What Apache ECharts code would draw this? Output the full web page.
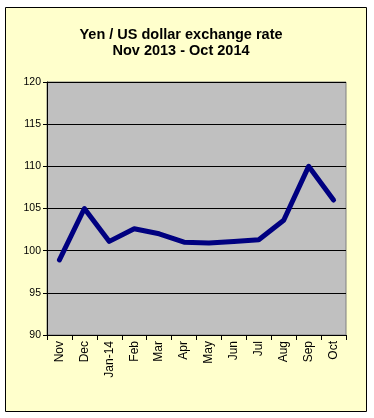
<!DOCTYPE html>
<html><head><meta charset="utf-8">
<script src="https://cdn.jsdelivr.net/npm/echarts@6/dist/echarts.min.js"></script>
<style>html,body{margin:0;padding:0;background:#fff}#c{width:374px;height:418px}</style>
</head><body><div id="c"></div>
<script>
const categories = ['Nov','Dec','Jan-14','Feb','Mar','Apr','May','Jun','Jul','Aug','Sep','Oct'];
const rates = [98.9, 105.0, 101.1, 102.6, 102.0, 101.0, 100.9, 101.1, 101.3, 103.6, 110.0, 106.0];
const yTicks = [90, 95, 100, 105, 110, 115, 120];
const titleText = 'Yen / US dollar exchange rate\nNov 2013 - Oct 2014';

const chart = echarts.init(document.getElementById('c'), null, {renderer:'canvas'});
chart.setOption({
  animation:false,
  backgroundColor:'#ffffff',
  graphic:[{type:'rect', z:-10, shape:{x:5.5,y:7.5,width:361,height:404},
    style:{fill:'#FFFFCC', stroke:'#000', lineWidth:1}}],
  title:{text:titleText, left:176, top:22, textAlign:'center',
    textStyle:{fontFamily:'Liberation Sans, Arial', fontSize:14.5, fontWeight:'bold', color:'#000', lineHeight:16}},
  grid:{left:47, top:82, width:299, height:253, show:true, backgroundColor:'#C0C0C0', borderColor:'#808080', borderWidth:1},
  xAxis:{type:'category', data:categories, boundaryGap:true,
    axisLine:{lineStyle:{color:'#000'}},
    axisTick:{show:true, length:5, inside:false, lineStyle:{color:'#000'}},
    axisLabel:{rotate:90, color:'#000', fontFamily:'Liberation Sans, Arial', fontSize:12, margin:6}},
  yAxis:{type:'value', min:yTicks[0], max:yTicks[yTicks.length-1], interval:5,
    axisLine:{show:true, lineStyle:{color:'#000'}},
    axisTick:{show:true, length:4, lineStyle:{color:'#000'}},
    axisLabel:{color:'#000', fontFamily:'Liberation Sans, Arial', fontSize:10.5, margin:6},
    splitLine:{show:true, lineStyle:{color:'#000', width:1}}},
  series:[{type:'line', data:rates, showSymbol:false, symbol:'none',
    lineStyle:{color:'#000080', width:5, join:'round', cap:'round'}}]
});
</script></body></html>
